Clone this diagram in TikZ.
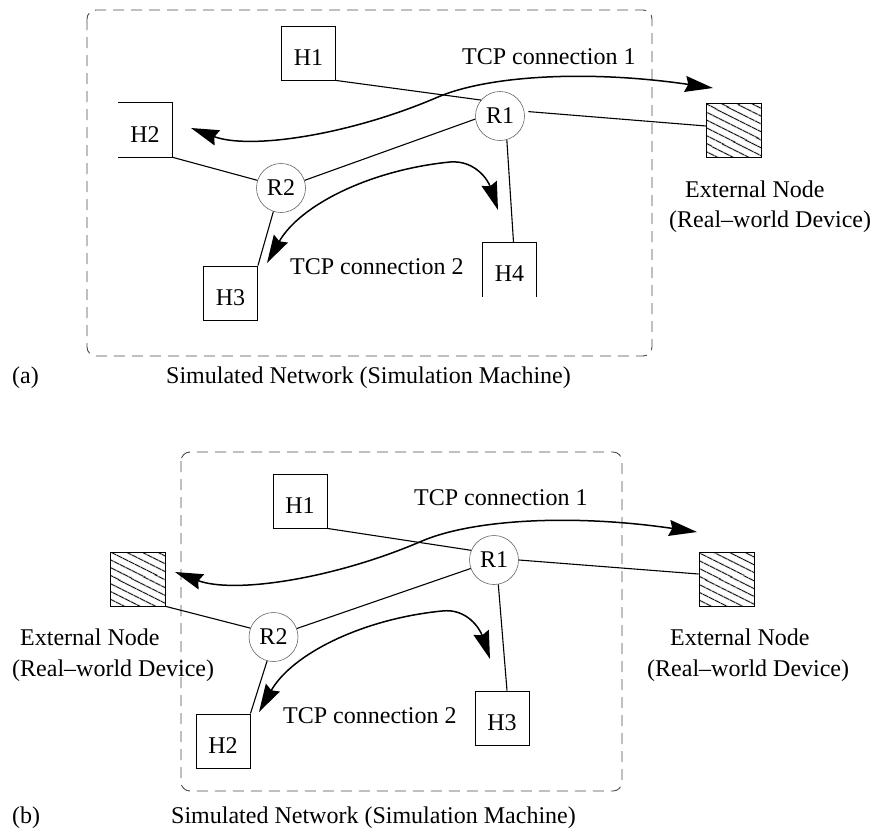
\documentclass[tikz,border=0pt]{standalone}
\usepackage{fontspec}
\setmainfont{Liberation Serif}
\usetikzlibrary{arrows.meta,patterns.meta}

\begin{document}
\begin{tikzpicture}[x=1pt,y=-1pt,
  font=\fontsize{24}{28}\selectfont,
  frame/.style={draw=black!70, line width=0.9pt, dash pattern=on 11pt off 7pt, rounded corners=9pt},
  host/.style={minimum width=54pt, minimum height=54pt, inner sep=0pt, text height=24pt, text depth=0pt},
  hostbox/.style={host, draw, line width=0.9pt},
  edges/.style={line width=0.9pt},
  router/.style={circle, draw=black!60, line width=0.6pt, minimum size=49pt, inner sep=0pt},
  ext/.style={minimum width=55pt, minimum height=54pt, inner sep=0pt, draw, line width=0.9pt,
    pattern={Lines[angle=-27, distance=6.5pt, line width=1pt]}},
  link/.style={line width=1.1pt},
  flow/.style={line width=1.5pt, >={Stealth[length=28pt,width=16pt,inset=3pt]}, <->},
  txt/.style={anchor=base west, inner sep=0pt},
]
\useasboundingbox (0,0) rectangle (878,835);

% ---------------- (a) ----------------
\draw[frame] (87,10) rectangle (652,356);

\node[hostbox] (aH1) at (308.5,53) {H1};
\node[host]    (aH2) at (145,130) {H2};
\draw[edges] (aH2.north west) -- (aH2.north east) -- (aH2.south east) -- (aH2.south west);
\node[hostbox] (aH3) at (230.5,293) {H3};
\node[host]    (aH4) at (509.5,269.5) {H4};
\draw[edges] (aH4.south west) -- (aH4.north west) -- (aH4.north east) -- (aH4.south east);
\node[router]  (aR1) at (500,116) {R1};
\node[router]  (aR2) at (281,188) {R2};
\node[ext]     (aX)  at (734,130) {};

\draw[link] (aH1.south east) -- (aR1.140);
\draw[link] (aR1.187) -- (aR2.18);
\draw[link] (aH2.south east) -- (aR2.162);
\draw[link] (aR2.252) -- (aH3.north east);
\draw[link] (aR1.286) -- ([xshift=4pt]aH4.north);
\draw[link, shorten <=4pt] (aR1.11) -- ([yshift=4pt]aX.west);

\coordinate (aA1) at (191,128);
\coordinate (aB1) at (713,88);
\draw[flow] (aA1) .. controls (250,150) and (350,135) .. (438,97)
                  .. controls (490,75) and (590,70) .. (aB1);
\coordinate (aA2) at (267,263);
\coordinate (aB2) at (498,210);
\draw[flow] (aA2) .. controls (300,205) and (370,170) .. (450,162)
                  .. controls (475,160) and (488,180) .. (aB2);

\node[txt] (aL1) at (462,64) {TCP connection 1};
\node[txt] (aL2) at (290,274) {TCP connection 2};
\node[txt] (aE1) at (685,197) {External Node};
\node[txt] (aE2) at (669,227) {(Real–world Device)};
\node[txt] (aC1) at (12,383) {(a)};
\node[txt] (aC2) at (166,383) {Simulated Network (Simulation Machine)};

% ---------------- (b) ----------------
\draw[frame] (181,452) rectangle (622,791);

\node[hostbox] (bH1) at (300,501) {H1};
\node[ext]     (bXl) at (138,579) {};
\node[hostbox] (bH2) at (223,741) {H2};
\node[hostbox] (bH3) at (502,718) {H3};
\node[router]  (bR1) at (494,560) {R1};
\node[router]  (bR2) at (273.5,637) {R2};
\node[ext]     (bXr) at (726.5,579) {};

\draw[link] (bH1.south east) -- (bR1.157);
\draw[link] (bR1.200) -- (bR2.20);
\draw[link] (bXl.south east) -- (bR2.159);
\draw[link] (bR2.255) -- (bH2.north east);
\draw[link] (bR1.280) -- ([xshift=5pt]bH3.north);
\draw[link] (bR1.0) -- ([yshift=5pt]bXr.west);

\coordinate (bA1) at (175,572);
\coordinate (bB1) at (697,532);
\draw[flow] (bA1) .. controls (234,594) and (334,579) .. (422,541)
                  .. controls (474,519) and (574,514) .. (bB1);
\coordinate (bA2) at (259,712);
\coordinate (bB2) at (490,659);
\draw[flow] (bA2) .. controls (292,654) and (362,619) .. (442,611)
                  .. controls (467,608) and (480,629) .. (bB2);

\node[txt] (bL1) at (414,505) {TCP connection 1};
\node[txt] (bL2) at (283,723) {TCP connection 2};
\node[txt] (bE1) at (20,645) {External Node};
\node[txt] (bE2) at (12,676) {(Real–world Device)};
\node[txt] (bE3) at (670,645) {External Node};
\node[txt] (bE4) at (647,676) {(Real–world Device)};
\node[txt] (bC1) at (12,823) {(b)};
\node[txt] (bC2) at (171,823) {Simulated Network (Simulation Machine)};
\end{tikzpicture}
\end{document}
